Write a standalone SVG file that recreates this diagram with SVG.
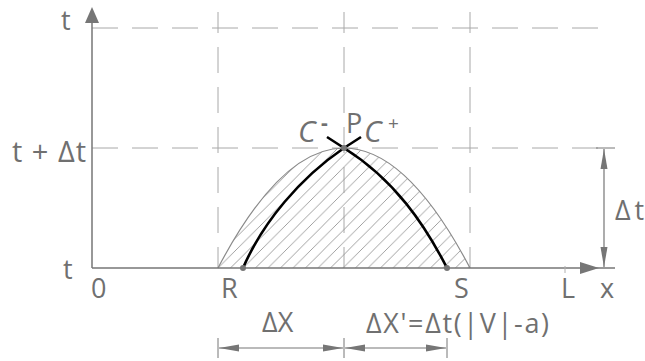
<svg xmlns="http://www.w3.org/2000/svg" width="645" height="361" viewBox="0 0 645 361">
<style>
.lbl{font-family:"Open Sans","Liberation Sans",sans-serif;font-size:27px;fill:#707070}
.dash{stroke:#a8a8a8;stroke-width:1;fill:none;stroke-dasharray:26 14}
.axis{stroke:#767676;stroke-width:1.5;fill:none}
.dim{stroke:#767676;stroke-width:1.2;fill:none}
.ext{stroke:#767676;stroke-width:1;fill:none}
.curve{stroke:#000;stroke-width:2.6;fill:none;stroke-linejoin:round}
.dot{fill:#767676}
</style>
<defs>
<pattern id="hatch" patternUnits="userSpaceOnUse" x="11" y="0" width="12.5" height="12.5">
<path d="M0,12.5 L12.5,0 M-3,3 L3,-3 M9.5,15.5 L15.5,9.5" stroke="#969696" stroke-width="0.9" fill="none"/>
</pattern>
<marker id="arr" viewBox="0 -4 20 8" refX="20" refY="0" markerWidth="20" markerHeight="8" markerUnits="userSpaceOnUse" orient="auto-start-reverse">
<path d="M0,-3.5 L20,0 L0,3.5 Z" fill="#767676"/>
</marker>
</defs>

<g id="grid">
<line class="dash" x1="92" y1="28" x2="598" y2="28"/>
<line class="dash" x1="92" y1="148" x2="598" y2="148"/>
<line class="ext" x1="596" y1="148" x2="615" y2="148"/>
<line class="dash" x1="218" y1="12" x2="218" y2="268" stroke-dashoffset="5"/>
<line class="dash" x1="344" y1="12" x2="344" y2="268" stroke-dashoffset="5"/>
<line class="dash" x1="470" y1="12" x2="470" y2="268" stroke-dashoffset="5"/>
</g>

<g id="region">
<path d="M218,268 Q344,28 470,268 Z" fill="url(#hatch)" stroke="none"/>
<path d="M218,268 Q344,28 470,268" fill="none" stroke="#8a8a8a" stroke-width="1.2"/>
</g>

<g id="axes">
<line class="axis" x1="92" y1="268" x2="615" y2="268"/>
<polygon points="599,268 580,262 580,274" fill="#767676"/>
<line class="axis" x1="92" y1="268" x2="92" y2="20"/>
<polygon points="92,7 85,23 99,23" fill="#767676"/>
<line x1="565" y1="266" x2="565" y2="273" stroke="#b0b0b0" stroke-width="1"/>
</g>

<g id="connectors">
<path id="cplus" class="curve" d="M243,268 C263,222 300,178 344,148 L361,137"/>
<path id="cminus" class="curve" d="M447,268 C425,225 395,180 344,148 L327,137"/>
</g>

<g id="point-R"><circle class="dot" cx="243" cy="268" r="3"/><text class="lbl" x="221" y="298">R</text></g>
<g id="point-S"><circle class="dot" cx="447" cy="268" r="3"/><text class="lbl" x="454" y="298">S</text></g>
<g id="point-P"><circle class="dot" cx="344" cy="148" r="3"/><text class="lbl" x="346" y="133">P</text></g>

<g id="labels">
<text class="lbl" x="61" y="30">t</text>
<text class="lbl" x="12" y="162" style="font-size:29px" textLength="74" lengthAdjust="spacing">t + Δt</text>
<text class="lbl" x="63" y="279">t</text>
<text class="lbl" x="91" y="298">0</text>
<text class="lbl" x="561" y="298">L</text>
<text class="lbl" x="600" y="298">x</text>
<text class="lbl" x="298" y="142" style="font-size:30px" font-style="italic">C</text>
<text class="lbl" x="321" y="130" style="font-size:21px;font-weight:bold">-</text>
<text class="lbl" x="364" y="142" style="font-size:30px" font-style="italic">C</text>
<text class="lbl" x="388" y="130" style="font-size:19px">+</text>
</g>

<g id="dim-dt">
<line class="dim" x1="604" y1="149" x2="604" y2="267" marker-start="url(#arr)" marker-end="url(#arr)"/>
<text class="lbl" x="615" y="220" textLength="29">Δt</text>
</g>

<g id="dim-dx">
<line class="ext" x1="218" y1="338" x2="218" y2="358"/>
<line class="ext" x1="344" y1="338" x2="344" y2="358"/>
<line class="ext" x1="447" y1="338" x2="447" y2="358"/>
<line class="dim" x1="219" y1="348" x2="343" y2="348" marker-start="url(#arr)" marker-end="url(#arr)"/>
<line class="dim" x1="345" y1="348" x2="446" y2="348" marker-start="url(#arr)" marker-end="url(#arr)"/>
<text class="lbl" x="262" y="332">ΔX</text>
<text class="lbl" x="366" y="333" textLength="183" lengthAdjust="spacing">ΔX'=Δt(|V|-a)</text>
</g>
</svg>
